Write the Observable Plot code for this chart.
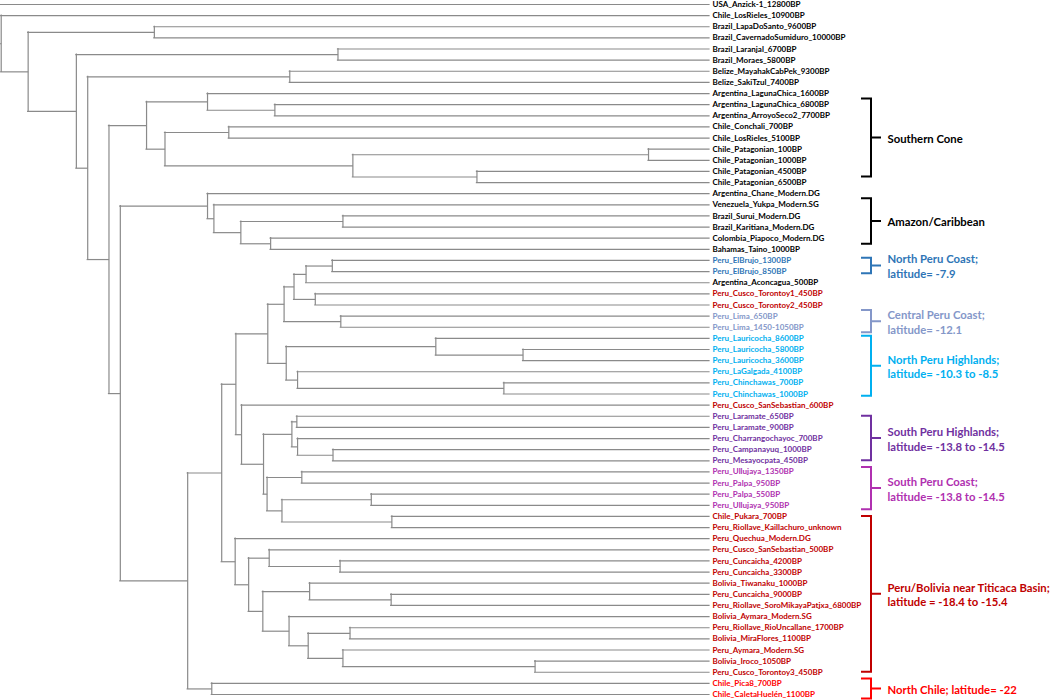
<!DOCTYPE html>
<html>
<head>
<meta charset="utf-8">
<script src="https://cdn.jsdelivr.net/npm/d3@7"></script>
<script src="https://cdn.jsdelivr.net/npm/@observablehq/plot@0.6"></script>
<style>
  body { margin: 0; background: #fff; }
  #chart svg { display: block; }
</style>
</head>
<body>
<div id="chart"></div>
<script>
// ---------- DATA ----------
// Tree topology (Newick). Each internal node is labelled with its depth
// (relative distance from the root, tips = 100). Leaves are aligned at the tips.
const tipDepth = 100;
const treeNewick = `(
USA_Anzick-1_12800BP,
(Chile_LosRieles_10900BP,
 ((Brazil_LapaDoSanto_9600BP,Brazil_CavernadoSumiduro_10000BP)21.7,
  ((Brazil_Laranjal_6700BP,Brazil_Moraes_5800BP)47.6,
   ((Belize_MayahakCabPek_9300BP,Belize_SakiTzul_7400BP)40.8,
    (
     ((Argentina_LagunaChica_1600BP,(Argentina_LagunaChica_6800BP,Argentina_ArroyoSeco2_7700BP)38.7)29.2,
      ((Chile_Conchali_700BP,Chile_LosRieles_5100BP)32.2,
       ((Chile_Patagonian_100BP,Chile_Patagonian_1000BP)91.4,(Chile_Patagonian_4500BP,Chile_Patagonian_6500BP)67.2)49.7
      )23.2
     )20.6,
     (
      (Argentina_Chane_Modern.DG,
       (Venezuela_Yukpa_Modern.SG,
        ((Brazil_Surui_Modern.DG,Brazil_Karitiana_Modern.DG)48.3,(Colombia_Piapoco_Modern.DG,Bahamas_Taino_1000BP)38.1)33.9
       )30.1
      )29.2,
      (
       (
        (
         (
          (
           (
            ((Peru_ElBrujo_1300BP,Peru_ElBrujo_850BP)46.8,Argentina_Aconcagua_500BP)43.1,
            (Peru_Cusco_Torontoy1_450BP,Peru_Cusco_Torontoy2_450BP)44.4
           )41.4,
           (Peru_Lima_650BP,Peru_Lima_1450-1050BP)48.0
          )40.0,
          (
           (Peru_Lauricocha_8600BP,(Peru_Lauricocha_5800BP,Peru_Lauricocha_3600BP)73.7)61.4,
           (Peru_LaGalgada_4100BP,(Peru_Chinchawas_700BP,Peru_Chinchawas_1000BP)71.0)41.9
          )40.3
         )37.7,
         (Peru_Cusco_SanSebastian_600BP,
          (
           (
            (Peru_Laramate_650BP,Peru_Laramate_900BP)41.8,
            (Peru_Charrangochayoc_700BP,(Peru_Campanayuq_1000BP,Peru_Mesayocpata_450BP)46.9)41.9
           )41.1,
           (
            (Peru_Ullujaya_1350BP,Peru_Palpa_950BP)42.5,
            ((Peru_Palpa_550BP,Peru_Ullujaya_950BP)52.3,(Chile_Pukara_700BP,Peru_Riollave_Kaillachuro_unknown)55.2)39.7
           )37.6
          )37.1
         )34.0
        )33.2,
        (Peru_Quechua_Modern.DG,
         (
          (Peru_Cusco_SanSebastian_500BP,(Peru_Cuncaicha_4200BP,Peru_Cuncaicha_3300BP)47.9)37.9,
          (
           (Bolivia_Tiwanaku_1000BP,(Peru_Cuncaicha_9000BP,Peru_Riollave_SoroMikayaPatjxa_6800BP)55.1)43.6,
           (Bolivia_Aymara_Modern.SG,
            (
             (Peru_Riollave_RioUncallane_1700BP,Bolivia_MiraFlores_1100BP)49.3,
             (Peru_Aymara_Modern.SG,(Bolivia_Iroco_1050BP,Peru_Cusco_Torontoy3_450BP)75.4)48.3
            )43.4
           )40.7
          )37.0
         )35.0
        )33.1
       )31.2,
       (Chile_Pica8_700BP,Chile_CaletaHuelén_1100BP)29.8
      )26.4
     )16.9
    )15.3
   )12.3
  )10.7
 )3.9
)0.1
)-1`;

// Leaf label regions
const regionNorthPeruCoast = ["Peru_ElBrujo_1300BP", "Peru_ElBrujo_850BP"];
const regionCentralPeruCoast = ["Peru_Lima_650BP", "Peru_Lima_1450-1050BP"];
const regionNorthPeruHighlands = ["Peru_Lauricocha_8600BP", "Peru_Lauricocha_5800BP", "Peru_Lauricocha_3600BP",
  "Peru_LaGalgada_4100BP", "Peru_Chinchawas_700BP", "Peru_Chinchawas_1000BP"];
const regionSouthPeruHighlands = ["Peru_Laramate_650BP", "Peru_Laramate_900BP", "Peru_Charrangochayoc_700BP",
  "Peru_Campanayuq_1000BP", "Peru_Mesayocpata_450BP"];
const regionSouthPeruCoast = ["Peru_Ullujaya_1350BP", "Peru_Palpa_950BP", "Peru_Palpa_550BP", "Peru_Ullujaya_950BP"];
const regionTiticaca = ["Peru_Cusco_Torontoy1_450BP", "Peru_Cusco_Torontoy2_450BP", "Peru_Cusco_SanSebastian_600BP",
  "Chile_Pukara_700BP", "Peru_Riollave_Kaillachuro_unknown", "Peru_Quechua_Modern.DG", "Peru_Cusco_SanSebastian_500BP",
  "Peru_Cuncaicha_4200BP", "Peru_Cuncaicha_3300BP", "Bolivia_Tiwanaku_1000BP", "Peru_Cuncaicha_9000BP",
  "Peru_Riollave_SoroMikayaPatjxa_6800BP", "Bolivia_Aymara_Modern.SG", "Peru_Riollave_RioUncallane_1700BP",
  "Bolivia_MiraFlores_1100BP", "Peru_Aymara_Modern.SG", "Bolivia_Iroco_1050BP", "Peru_Cusco_Torontoy3_450BP"];
const regionNorthChile = ["Chile_Pica8_700BP", "Chile_CaletaHuelén_1100BP"];

// Bracket annotations
const bracketLabels = ["Southern Cone", "Amazon/Caribbean", "North Peru Coast;\nlatitude= -7.9",
  "Central Peru Coast;\nlatitude= -12.1", "North Peru Highlands;\nlatitude= -10.3 to -8.5",
  "South Peru Highlands;\nlatitude= -13.8 to -14.5", "South Peru Coast;\nlatitude= -13.8 to -14.5",
  "Peru/Bolivia near Titicaca Basin;\nlatitude = -18.4 to -15.4", "North Chile; latitude= -22"];
const bracketFirst = ["Argentina_LagunaChica_1600BP", "Argentina_Chane_Modern.DG", "Peru_ElBrujo_1300BP",
  "Peru_Lima_650BP", "Peru_Lauricocha_8600BP", "Peru_Laramate_650BP", "Peru_Ullujaya_1350BP",
  "Chile_Pukara_700BP", "Chile_Pica8_700BP"];
const bracketLast = ["Chile_Patagonian_6500BP", "Bahamas_Taino_1000BP", "Peru_ElBrujo_850BP",
  "Peru_Lima_1450-1050BP", "Peru_Chinchawas_1000BP", "Peru_Mesayocpata_450BP", "Peru_Ullujaya_950BP",
  "Peru_Cusco_Torontoy3_450BP", "Chile_CaletaHuelén_1100BP"];
const bracketRegion = ["other", "other", "npc", "cpc", "nph", "sph", "spc", "tit", "nch"];

// ---------- STYLE ----------
const regionColor = {
  other: "#000000", npc: "#2e75b6", cpc: "#8497c9", nph: "#00b0f0",
  sph: "#7030a0", spc: "#b030b0", tit: "#c00000", nch: "#ff0000"
};
const bracketPad = [-0.5, -0.45, 0.2, 0.5, 0.2, 0.0, 0.4, 0.0, 0.4];
const treeStroke = "#8a8a8a";
const font = "Lato, 'Open Sans', sans-serif";

// ---------- BUILD ----------
function parseNewick(str) {
  const s = str.replace(/\s+/g, "");
  let i = 0;
  function label() {
    const j = i;
    while (i < s.length && !",()".includes(s[i])) i++;
    return s.slice(j, i);
  }
  function node() {
    if (s[i] === "(") {
      i++;
      const children = [];
      do { children.push(node()); } while (s[i++] === ",");
      return {children, depth: +label()};
    }
    return {name: label()};
  }
  return node();
}

const root = d3.hierarchy(parseNewick(treeNewick), d => d.children);
const leaves = root.leaves();
leaves.forEach((d, i) => { d.yi = i; d.depth_ = tipDepth; });
root.eachAfter(d => {
  if (d.children) {
    d.depth_ = d.data.depth;
    d.yi = (d.children[0].yi + d.children[d.children.length - 1].yi) / 2;
  }
});

const hSegs = [];
const vSegs = [];
root.each(d => {
  if (d.parent) hSegs.push({x1: d.parent.depth_, x2: d.depth_, y: d.yi});
  if (d.children) vSegs.push({x: d.depth_, y1: d.children[0].yi, y2: d.children[d.children.length - 1].yi});
});

const regionOf = new Map();
[["npc", regionNorthPeruCoast], ["cpc", regionCentralPeruCoast], ["nph", regionNorthPeruHighlands],
 ["sph", regionSouthPeruHighlands], ["spc", regionSouthPeruCoast], ["tit", regionTiticaca], ["nch", regionNorthChile]]
  .forEach(([k, arr]) => arr.forEach(n => regionOf.set(n, k)));

const leafIndex = new Map(leaves.map(d => [d.data.name, d.yi]));
const brackets = bracketLabels.map((label, k) => {
  const y1 = leafIndex.get(bracketFirst[k]) - bracketPad[k];
  const y2 = leafIndex.get(bracketLast[k]) + bracketPad[k];
  return {label, y1, y2, ym: (y1 + y2) / 2, color: regionColor[bracketRegion[k]]};
});

function bracketMark(index, scales) {
  const g = d3.create("svg:g").attr("fill", "none").attr("stroke-width", 2);
  const xb = scales.x(tipDepth) + 162;
  for (const b of brackets) {
    const y1 = scales.y(b.y1), y2 = scales.y(b.y2), ym = scales.y(b.ym);
    g.append("path")
      .attr("stroke", b.color)
      .attr("d", `M${xb - 10},${y1}H${xb}V${y2}H${xb - 10}M${xb},${ym}H${xb + 10}`);
  }
  return g.node();
}

const chart = Plot.plot({
  width: 1050,
  height: 700,
  margin: 0,
  style: {background: "#fff"},
  x: {domain: [0, tipDepth], range: [0, 709], axis: null},
  y: {domain: [0, leaves.length - 1], range: [4, 694], axis: null},
  color: {type: "identity"},
  marks: [
    Plot.ruleY(hSegs, {y: "y", x1: "x1", x2: "x2", stroke: treeStroke, strokeWidth: 1.2, strokeLinecap: "square"}),
    Plot.ruleX(vSegs, {x: "x", y1: "y1", y2: "y2", stroke: treeStroke, strokeWidth: 1.2, strokeLinecap: "square"}),
    Plot.text(leaves, {
      x: () => tipDepth, y: "yi", text: d => d.data.name,
      fill: d => regionColor[regionOf.get(d.data.name) || "other"],
      textAnchor: "start", dx: 3, fontSize: 8, fontWeight: "bold", fontFamily: font
    }),
    bracketMark,
    Plot.text(brackets, {
      x: () => tipDepth, y: "ym", text: "label", fill: "color",
      textAnchor: "start", dx: 178, fontSize: 11.3, fontWeight: "bold", fontFamily: font, lineHeight: 1.3
    })
  ]
});
document.getElementById("chart").appendChild(chart);
</script>
</body>
</html>
